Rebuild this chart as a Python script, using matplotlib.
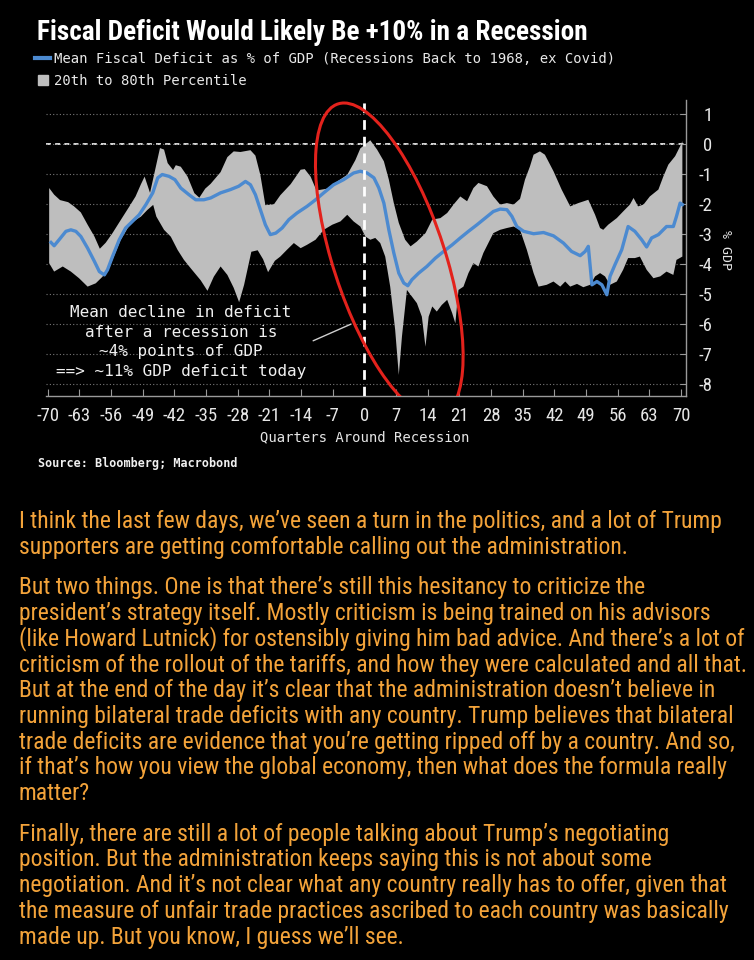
#!/usr/bin/env python3
"""
Fiscal deficit around recessions (Bloomberg style chart) + commentary text
"""
import os
import numpy as np
import matplotlib
matplotlib.use('Agg')
import matplotlib.pyplot as plt
from matplotlib import font_manager as fm
from matplotlib.lines import Line2D
from matplotlib.patches import Circle
from matplotlib.transforms import Affine2D

plt.rcParams['axes.unicode_minus'] = False

# ---- data (quarters around recession, % of GDP) ----
quarters_mean = [-69.3, -68.6, -67.5, -66.0, -64.9, -63.8, -62.7, -61.2, -59.7, -58.6,
                 -57.5, -56.8, -55.7, -54.2, -52.8, -51.3, -49.8, -48.3, -46.8, -45.7,
                 -44.7, -43.2, -41.9, -40.6, -38.8, -37.3, -35.5, -34.0, -31.8, -29.6,
                 -27.8, -26.3, -25.2, -24.1, -23.0, -21.9, -20.8, -19.6, -18.2, -16.7,
                 -14.9, -12.7, -10.8, -9.0, -6.8, -4.6, -2.4, -0.9, 0.6, 2.1,
                 3.2, 4.3, 5.4, 6.5, 7.6, 8.7, 9.6, 10.5, 12.0, 13.8,
                 15.7, 17.5, 19.4, 21.2, 23.0, 24.9, 26.7, 28.5, 30.0, 31.5,
                 32.6, 33.7, 35.2, 37.4, 39.6, 41.8, 44.0, 45.8, 47.7, 48.8,
                 49.5, 50.3, 51.4, 52.5, 53.6, 54.3, 55.4, 56.9, 58.3, 59.8,
                 61.3, 62.4, 63.5, 65.0, 66.8, 68.3, 69.0, 69.8, 70.3]
mean_deficit = [-3.29, -3.40, -3.20, -2.92, -2.87, -2.92, -3.09, -3.48, -3.92, -4.26,
                -4.37, -4.20, -3.76, -3.20, -2.81, -2.59, -2.37, -2.03, -1.64, -1.14,
                -1.03, -1.09, -1.20, -1.48, -1.70, -1.87, -1.87, -1.81, -1.64, -1.53,
                -1.42, -1.26, -1.37, -1.70, -2.20, -2.70, -3.03, -2.98, -2.81, -2.53,
                -2.31, -2.09, -1.87, -1.64, -1.37, -1.20, -0.98, -0.92, -0.98, -1.14,
                -1.48, -1.98, -2.87, -3.64, -4.31, -4.64, -4.73, -4.53, -4.31, -4.09,
                -3.81, -3.59, -3.37, -3.14, -2.92, -2.70, -2.48, -2.26, -2.18, -2.20,
                -2.42, -2.76, -2.92, -3.00, -2.96, -3.07, -3.31, -3.59, -3.73, -3.59,
                -3.42, -4.70, -4.59, -4.70, -5.03, -4.42, -4.03, -3.53, -2.76, -2.92,
                -3.20, -3.44, -3.14, -3.03, -2.76, -2.76, -2.42, -1.98, -2.03]

quarters_p80 = [-69.7, -68.6, -67.3, -65.5, -64.2, -62.7, -61.2, -59.7, -58.5, -57.2,
                -55.7, -53.9, -52.0, -50.6, -49.4, -48.6, -47.4, -45.2, -44.3, -43.5,
                -42.3, -41.7, -40.6, -39.1, -37.6, -36.5, -35.2, -34.0, -31.8, -30.3,
                -28.9, -27.4, -25.2, -24.1, -23.0, -21.9, -20.0, -18.6, -16.3, -14.1,
                -13.2, -11.9, -10.6, -8.2, -6.0, -3.8, -2.0, -0.9, 1.3, 2.8,
                4.3, 5.4, 6.5, 7.6, 9.0, 10.2, 11.6, 13.5, 15.0, 16.8,
                18.3, 19.7, 21.2, 22.7, 24.1, 25.2, 27.1, 28.5, 30.0, 31.5,
                33.0, 34.4, 35.5, 36.6, 37.4, 38.8, 39.9, 41.8, 43.6, 45.5,
                47.3, 49.5, 51.0, 52.1, 52.8, 53.9, 55.8, 57.2, 58.7, 59.5,
                60.5, 61.7, 63.1, 65.0, 66.1, 67.2, 68.7, 69.8, 70.3]
pct80 = [-1.48, -1.70, -1.88, -1.95, -2.09, -2.29, -2.70, -3.09, -3.50, -3.30,
         -2.98, -2.55, -2.10, -1.76, -1.35, -1.10, -1.64, -0.15, -0.20, -0.65,
         -0.88, -0.72, -0.77, -1.10, -1.65, -1.80, -1.50, -1.34, -0.95, -0.45,
         -0.26, -0.28, -0.22, -0.40, -1.05, -2.05, -2.02, -1.72, -1.35, -0.87,
         -0.85, -1.10, -1.56, -1.50, -1.26, -1.04, -0.55, -0.16, 0.11, -0.20,
         -0.59, -1.20, -1.98, -2.64, -3.20, -3.42, -3.26, -2.98, -2.53, -2.48,
         -2.31, -2.03, -1.76, -1.92, -1.48, -1.31, -1.42, -1.76, -2.03, -1.98,
         -2.03, -1.84, -1.20, -0.76, -0.37, -0.26, -0.37, -0.92, -1.53, -2.09,
         -1.98, -1.87, -2.37, -2.81, -2.87, -2.70, -2.48, -2.26, -2.03, -1.81,
         -2.09, -2.03, -1.76, -1.53, -1.09, -0.70, -0.42, -0.09, 0.08]

quarters_p20 = [-69.7, -68.6, -66.7, -64.9, -63.1, -61.2, -59.4, -57.9, -55.7, -53.9,
                -51.7, -49.4, -48.0, -46.7, -46.0, -44.3, -42.8, -41.3, -39.9, -38.4,
                -36.2, -34.7, -33.3, -31.8, -30.3, -28.9, -27.7, -26.6, -25.0, -23.6,
                -22.4, -21.3, -19.8, -18.6, -17.1, -15.6, -14.1, -12.7, -10.8, -9.0,
                -7.1, -5.3, -3.8, -2.4, -0.9, 0.2, 1.3, 2.4, 3.5, 4.6,
                5.7, 6.8, 7.6, 8.3, 9.4, 10.5, 11.6, 12.7, 13.5, 14.2,
                15.0, 16.0, 17.1, 18.3, 19.4, 20.1, 20.8, 21.9, 23.0, 24.1,
                25.2, 26.3, 27.4, 28.5, 30.0, 31.5, 33.0, 34.4, 35.9, 37.4,
                38.5, 40.3, 41.8, 43.3, 44.4, 45.5, 47.0, 48.4, 49.9, 51.0,
                52.1, 53.2, 54.3, 55.8, 57.2, 58.3, 59.8, 60.9, 62.4, 63.9,
                65.4, 66.8, 68.3, 69.0, 70.3]
pct20 = [-3.98, -4.26, -4.09, -4.26, -4.48, -4.76, -4.65, -4.43, -3.87, -3.21,
         -2.65, -2.43, -2.21, -2.04, -2.43, -2.87, -3.10, -3.54, -3.87, -4.15,
         -4.55, -4.90, -4.43, -4.09, -4.37, -4.80, -5.28, -4.70, -3.60, -3.55,
         -3.85, -4.28, -3.90, -3.76, -3.53, -3.31, -3.48, -3.37, -3.20, -2.87,
         -2.70, -2.59, -2.37, -2.59, -2.76, -3.09, -3.20, -3.14, -3.31, -3.76,
         -4.76, -6.20, -7.70, -6.42, -4.87, -5.09, -5.31, -5.76, -6.76, -5.76,
         -5.42, -5.59, -5.37, -5.20, -5.64, -5.98, -4.87, -4.76, -4.31, -3.98,
         -4.09, -3.64, -3.31, -2.98, -2.87, -2.81, -2.76, -2.87, -3.53, -4.31,
         -4.76, -4.70, -4.59, -4.76, -4.59, -4.76, -4.67, -4.78, -4.70, -4.42,
         -4.31, -4.42, -4.70, -4.59, -4.20, -3.81, -3.81, -3.76, -4.20, -4.48,
         -4.42, -4.26, -4.37, -3.87, -3.76]

x_ticks = list(range(-70, 71, 7))
y_ticks = list(range(-8, 2))

title = 'Fiscal Deficit Would Likely Be +10% in a Recession'
mean_label = 'Mean Fiscal Deficit as % of GDP (Recessions Back to 1968, ex Covid)'
band_label = '20th to 80th Percentile'
note = ('Mean decline in deficit\nafter a recession is\n'
        '~4% points of GDP\n==> ~11% GDP deficit today')
source = 'Source: Bloomberg; Macrobond'

paragraphs = [
    ["I think the last few days, we\u2019ve seen a turn in the politics, and a lot of Trump",
     "supporters are getting comfortable calling out the administration."],
    ["But two things. One is that there\u2019s still this hesitancy to criticize the",
     "president\u2019s strategy itself. Mostly criticism is being trained on his advisors",
     "(like Howard Lutnick) for ostensibly giving him bad advice. And there\u2019s a lot of",
     "criticism of the rollout of the tariffs, and how they were calculated and all that.",
     "But at the end of the day it\u2019s clear that the administration doesn\u2019t believe in",
     "running bilateral trade deficits with any country. Trump believes that bilateral",
     "trade deficits are evidence that you\u2019re getting ripped off by a country. And so,",
     "if that\u2019s how you view the global economy, then what does the formula really",
     "matter?"],
    ["Finally, there are still a lot of people talking about Trump\u2019s negotiating",
     "position. But the administration keeps saying this is not about some",
     "negotiation. And it\u2019s not clear what any country really has to offer, given that",
     "the measure of unfair trade practices ascribed to each country was basically",
     "made up. But you know, I guess we\u2019ll see."],
]

# ---- style ----
BLUE = '#4C8AD0'
GREY = '#BEBEBE'
RED = '#E3221C'
ORANGE = '#F3A33A'
MONO = ['DejaVu Sans Mono']


def narrow_font(bold=False):
    """Look for an installed condensed / narrow sans face; fall back to Roboto."""
    prefs = ['liberation sans narrow', 'dejavu sans condensed', 'roboto condensed',
             'noto sans condensed', 'open sans condensed', 'opensans cond',
             'noto sans semicondensed', 'open sans semicondensed', 'semicondensed']
    best, best_rank = None, 99
    for f in fm.fontManager.ttflist:
        key = (f.name + ' ' + os.path.basename(f.fname)).lower().replace('-', ' ')
        key = key.replace('_', ' ')
        if any(b in key for b in ('mono', 'serif', 'extra', 'ultra', 'italic',
                                  'oblique', 'light', 'thin', 'medium', 'black')):
            continue
        if f.style != 'normal':
            continue
        w = f.weight if isinstance(f.weight, int) else (700 if 'bold' in str(f.weight) else 400)
        if bold and w < 650 or (not bold and w > 450):
            continue
        if 'semibold' in key or 'semi bold' in key:
            continue
        cond = ('narrow' in key or 'cond' in key or
                f.stretch in ('condensed', 'semi-condensed'))
        if not cond:
            continue
        rank = next((i for i, p in enumerate(prefs) if p in key), 50)
        if rank < best_rank:
            best, best_rank = f.fname, rank
    if best:
        return fm.FontProperties(fname=best)
    return fm.FontProperties(family=['Roboto', 'DejaVu Sans'],
                             weight='bold' if bold else 'normal')


FP_REG = narrow_font(False)
FP_BOLD = narrow_font(True)

W, H = 754, 960
fig = plt.figure(figsize=(W / 100, H / 100), dpi=100, facecolor='black')
renderer = fig.canvas.get_renderer()


def fitted(fp, text, target_px, start=14.0):
    """font properties sized so that `text` is about target_px wide"""
    p = fp.copy()
    p.set_size(start)
    t = fig.text(0, 0, text, fontproperties=p)
    wpx = t.get_window_extent(renderer).width
    t.remove()
    p.set_size(start * target_px / wpx)
    return p


ax = fig.add_axes([46 / W, 1 - 396 / H, 640 / W, 296 / H], facecolor='black')

# band + mean
ax.fill(quarters_p80 + quarters_p20[::-1], pct80 + pct20[::-1],
        color=GREY, lw=0, zorder=2)
ax.plot(quarters_mean, mean_deficit, color=BLUE, lw=2.4, zorder=3,
        solid_joinstyle='round')
ax.axhline(0, color='white', lw=1.2, ls=(0, (3, 2.5)), zorder=1.5)
ax.axvline(0, color='white', lw=2.0, ls=(0, (3.5, 2.5)), zorder=4)

ax.set_xlim(-70.4, 71.1)
ax.set_ylim(-8.4, 1.45)
ax.set_xticks(x_ticks)
ax.set_yticks(y_ticks)
ax.grid(axis='y', color='#777777', ls=(0, (1, 2)), lw=0.8, zorder=1)

for s in ['left', 'top']:
    ax.spines[s].set_visible(False)
for s in ['right', 'bottom']:
    ax.spines[s].set_color('#9A9A9A')
    ax.spines[s].set_linewidth(1.0)

ax.yaxis.tick_right()
ax.tick_params(axis='x', direction='in', length=5, color='#9A9A9A',
               labelcolor='#E6E6E6', pad=8)
ax.tick_params(axis='y', direction='in', length=4, color='#9A9A9A',
               labelcolor='#E6E6E6', pad=19)
fp_tick = FP_REG.copy()
fp_tick.set_size(13.5)
for lbl in ax.get_xticklabels() + ax.get_yticklabels():
    lbl.set_fontproperties(fp_tick)
for lbl in ax.get_yticklabels():
    lbl.set_horizontalalignment('right')

# annotation
ax.text(-40.6, -6.61, note, ha='center', va='center', multialignment='center',
        color='#F0F0F0', fontsize=11.5, family=MONO, linespacing=1.38, zorder=6)
ax.annotate('', xy=(-2.4, -5.97), xytext=(-11.9, -6.6),
            arrowprops=dict(arrowstyle='-', color='#D0D0D0', lw=1.0), zorder=6)

# red hand-drawn style ellipse (unit circle mapped into data space)
ring = Circle((0, 0), 1, fill=False, ec=RED, lw=2.2, zorder=7,
              transform=Affine2D(np.array([[12.9, 10.0, 5.5],
                                           [0.0, -5.22, -3.87],
                                           [0.0, 0.0, 1.0]])) + ax.transData)
ax.add_patch(ring)

# title / legend
fig.text(37 / W, 1 - 33 / H, title, color='white', va='center',
         fontproperties=fitted(FP_BOLD, title, 553, 17))
handles = [Line2D([0], [0], color=BLUE, lw=3),
           Line2D([0], [0], marker='s', ls='none', color=GREY, markersize=7)]
fig.legend(handles, [mean_label, band_label], loc='upper left',
           bbox_to_anchor=(35 / W, 1 - 52 / H), frameon=False,
           prop={'family': MONO, 'size': 10}, labelcolor='#E8E8E8',
           handlelength=1.1, handletextpad=0.25, labelspacing=0.58,
           borderpad=0, borderaxespad=0)

fig.text(365 / W, 1 - 437 / H, 'Quarters Around Recession', color='#E6E6E6',
         fontsize=10, family=MONO, ha='center', va='center')
fig.text(726 / W, 1 - 250 / H, '% GDP', color='#E6E6E6', fontsize=9.5,
         family=MONO, ha='center', va='center', rotation=270)
fig.text(38 / W, 1 - 463 / H, source, color='#F0F0F0', fontsize=8.5,
         weight='bold', family=MONO, va='center')

# commentary text below the chart
fp_body = fitted(FP_REG, paragraphs[0][0], 704, 15.5)
pitch, gap, y = 25.7, 15.0, 528.0
for para in paragraphs:
    for line in para:
        fig.text(19 / W, 1 - y / H, line, color=ORANGE, va='baseline',
                 fontproperties=fp_body)
        y += pitch
    y += gap

fig.savefig('out.png', dpi=100, facecolor='black')
